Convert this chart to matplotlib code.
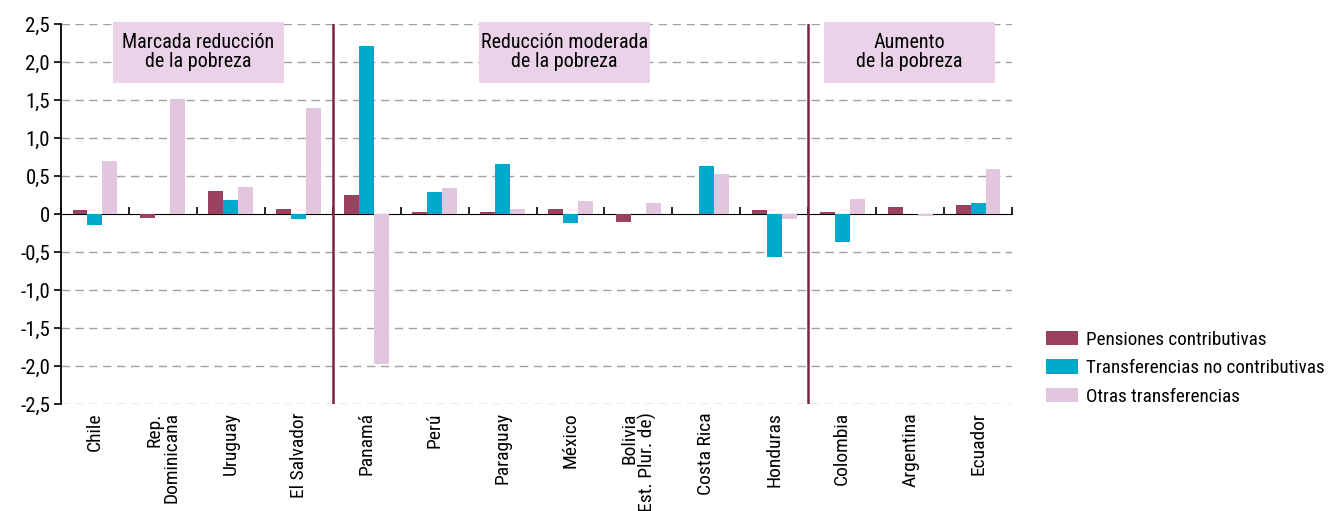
import matplotlib.pyplot as plt
from matplotlib.patches import Rectangle
import numpy as np

plt.rcParams['font.family'] = ['Roboto Condensed', 'Archivo Narrow', 'DejaVu Sans']

countries = ['Chile', 'Rep.\nDominicana', 'Uruguay', 'El Salvador', 'Panamá', 'Perú',
             'Paraguay', 'México', 'Bolivia\n(Est. Plur. de)', 'Costa Rica', 'Honduras',
             'Colombia', 'Argentina', 'Ecuador']
pensiones = [0.05, -0.05, 0.30, 0.07, 0.25, 0.02, 0.02, 0.06, -0.10, 0.0, 0.05, 0.02, 0.09, 0.12]
no_contrib = [-0.15, 0.0, 0.19, -0.06, 2.21, 0.29, 0.66, -0.12, 0.0, 0.63, -0.56, -0.37, 0.0, 0.14]
otras = [0.70, 1.51, 0.36, 1.40, -1.97, 0.34, 0.07, 0.17, 0.14, 0.52, -0.07, 0.20, -0.02, 0.59]
series_names = ['Pensiones contributivas', 'Transferencias no contributivas', 'Otras transferencias']
colors = ['#9b4160', '#00a9cc', '#e2c6df']
group_titles = ['Marcada reducción\nde la pobreza', 'Reducción moderada\nde la pobreza', 'Aumento\nde la pobreza']
box_lefts = [0.265, 5.653, 10.73]
dividers = [3.5, 10.5]

fig = plt.figure(figsize=(13.31, 5.11), dpi=100)
ax = fig.add_axes([61 / 1331, 1 - 404 / 511, (1012 - 61) / 1331, (404 - 24) / 511])

x = np.arange(len(countries))
w = 0.22
for i, (vals, name, c) in enumerate(zip([pensiones, no_contrib, otras], series_names, colors)):
    ax.bar(x + (i - 1) * w, vals, w, color=c, label=name, zorder=3)

ax.set_xlim(-0.5, len(countries) - 0.5)
ax.set_ylim(-2.5, 2.5)
yt = np.arange(-2.5, 2.51, 0.5)
ax.set_yticks(yt)
ax.set_yticklabels(['0' if abs(v) < 1e-9 else f'{v:.1f}'.replace('.', ',') for v in yt], fontsize=15)
for v in yt:
    if abs(v) > 1e-9:
        ax.axhline(v, color='#a0a0a0', lw=1.0, ls=(0, (6, 4)), zorder=1)

ax.set_xticks(x)
ax.set_xticklabels(countries, rotation=90, fontsize=14, va='top', ha='center',
                   multialignment='right', linespacing=0.95)
ax.tick_params(axis='x', length=0, pad=6)
ax.tick_params(axis='y', length=5, width=1.2, direction='out', pad=3)
for s in ['top', 'right', 'bottom']:
    ax.spines[s].set_visible(False)
ax.spines['left'].set_linewidth(1.3)

# zero line with ticks between countries
sec = ax.secondary_xaxis(0.5)
sec.set_xticks(np.arange(-0.5, len(countries), 1.0))
sec.set_xticklabels([])
sec.tick_params(length=5, width=1.2, direction='out')
sec.spines['bottom'].set_linewidth(1.3)

for d in dividers:
    ax.axvline(d, color='#7b2343', lw=1.8, zorder=4)

# group boxes
bw, by0, by1 = 2.52, 1.72, 2.526
for bx, t in zip(box_lefts, group_titles):
    ax.add_patch(Rectangle((bx, by0), bw, by1 - by0, fc='#ead3e8', ec='none', zorder=5, clip_on=False))
    ax.text(bx + bw / 2, (by0 + by1) / 2 + 0.01, t, ha='center', va='center', fontsize=14.5,
            linespacing=1.0, zorder=6)

ax.legend(loc='lower left', bbox_to_anchor=(1.018, -0.05), frameon=False, fontsize=13.8,
          handlelength=1.65, handleheight=0.78, labelspacing=0.55, handletextpad=0.4)

fig.savefig('out.png', dpi=100)
